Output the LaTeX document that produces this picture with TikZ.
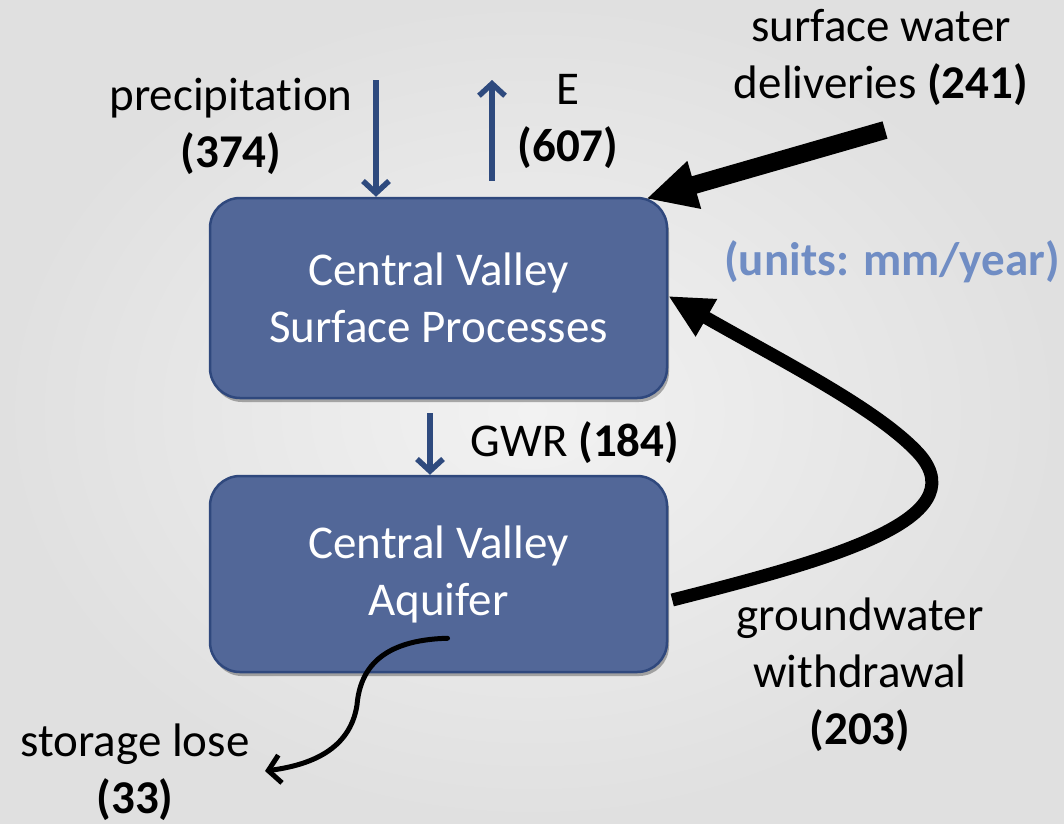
\documentclass[tikz,border=0pt]{standalone}
\usepackage{fontspec}
\setmainfont{Carlito}[Ligatures={NoCommon,NoRare},Contextuals=NoAlternate]
\usetikzlibrary{arrows.meta,shadows,calc}
\definecolor{bg}{RGB}{242,242,242}
\definecolor{bgedge}{RGB}{224,224,224}
\definecolor{boxfill}{RGB}{82,103,152}
\definecolor{boxline}{RGB}{47,72,125}
\definecolor{flowblue}{RGB}{46,74,126}
\definecolor{unitblue}{RGB}{112,141,196}
\tikzset{
  procbox/.style={draw=boxline, line width=2.5pt, fill=boxfill, rounded corners=30pt,
    minimum width=457pt, minimum height=200pt, text=white, align=center,
    drop shadow={shadow xshift=2pt, shadow yshift=-4pt, opacity=0.3, fill=black}},
  lbl/.style={align=center, text=black, inner sep=0pt},
  bluearrow/.style={draw=flowblue, line width=5.5pt, -{Straight Barb[length=12pt,width=26pt]}},
  bigarrow/.style={draw=black, line width=18pt, -{Triangle[length=50pt,width=46pt]}},
  gwarrow/.style={draw=black, line width=13pt, -{Triangle[length=44pt,width=40pt]}},
  thinarrow/.style={draw=black, line width=5pt, line cap=round, -{Straight Barb[length=12pt,width=28pt]}},
}
\begin{document}
\begin{tikzpicture}[x=1pt,y=-1pt, font=\fontsize{47}{57}\selectfont]
\shade[inner color=bg, outer color=bgedge] (0,0) rectangle (1064,823);
\useasboundingbox (0,0) rectangle (1064,823);

\node[procbox] (surf) at (438.5,298) {Central Valley\\Surface Processes};
\node[procbox, minimum height=196pt] (aqu) at (438.5,574) {Central Valley\\Aquifer};

\node[lbl] (prec) at (231,126) {precipitat\kern0pt ion\\\textbf{(374)}};
\node[lbl] (evap) at (568,121) {E\\\textbf{(607)}};
\node[lbl] (swd) at (881,57) {surface water\\deliveries \textbf{(241)}};
\node[lbl, text=unitblue] (units) at (892,262) {\textbf{(units: mm/year)}};
\node[lbl] (gwr) at (575,443) {GWR \textbf{(184)}};
\node[lbl] (gww) at (860,675) {groundwater\\withdrawal\\\textbf{(203)}};
\node[lbl] (stl) at (135,772) {storage lose\\\textbf{(33)}};

\coordinate (precS) at (376,80);
\coordinate (evapE) at (492,80);
\coordinate (gwrS) at (430,413);
\coordinate (swdS) at (885,130);
\coordinate (stlE) at (265,771);

\draw[bluearrow] (precS) -- (surf.north -| precS);
\draw[bluearrow] ($(surf.north -| evapE)+(0,-16)$) -- (evapE);
\draw[bluearrow] (gwrS) -- (aqu.north -| gwrS);
\draw[bigarrow] (swdS) -- ($(surf.north east)+(-22,2)$);
\draw[gwarrow] ($(aqu.east)+(4,26)$) .. controls (830,560) and (975,520) .. (920,455)
   .. controls (880,410) and (780,360) .. ($(surf.east)+(0,-2)$);
\draw[thinarrow] ($(aqu.south)+(9,-35)$) .. controls (380,640) and (360,670) .. (357,705)
   .. controls (350,750) and (310,765) .. (stlE);
\end{tikzpicture}
\end{document}
